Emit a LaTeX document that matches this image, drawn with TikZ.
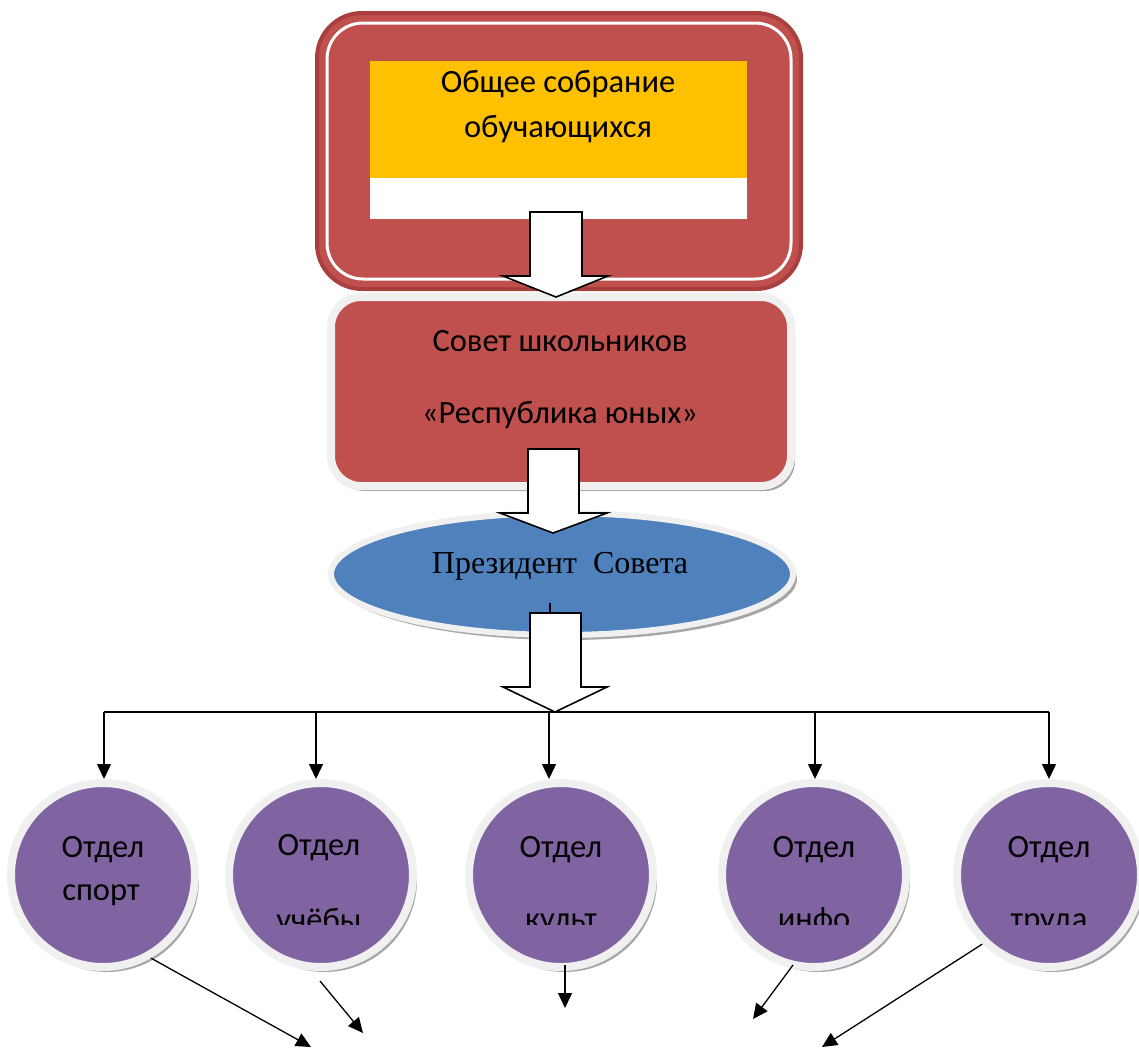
\documentclass[tikz,border=0pt]{standalone}
\usepackage{fontspec}
\setmainfont{Carlito}
\newfontfamily\serifrm{Liberation Serif}
\usetikzlibrary{arrows.meta,shadows,shapes.geometric}
\definecolor{redbox}{HTML}{C0504D}
\definecolor{rededge}{HTML}{A9403D}
\definecolor{yelbox}{HTML}{FFC000}
\definecolor{bluebox}{HTML}{4F81BD}
\definecolor{purbox}{HTML}{8064A2}
\tikzset{
  lbl/.style={anchor=base, inner sep=0, font=\fontsize{32.5}{38}\selectfont},
  sershadow/.style={drop shadow={shadow xshift=4pt, shadow yshift=-5pt, fill=black!35, opacity=1}},
  blockarrow/.style={draw=black, fill=white, line width=1.6},
  dept/.style={circle, minimum size=184, inner sep=0, fill=purbox, draw=white!94!black, line width=8, sershadow},
  conn/.style={draw=black, line width=1.3, -{Triangle[length=15,width=14]}},
}
\begin{document}
\begin{tikzpicture}[x=1pt,y=-1pt]
\useasboundingbox[fill=white] (0,0) rectangle (1139,1047);

% top box
\node[rectangle, rounded corners=45, minimum width=484, minimum height=276, inner sep=0,
      fill=redbox, draw=rededge, line width=4] (top) at (559,151) {};
\draw[white, line width=3, rounded corners=36] (327,23) rectangle (791,279);
\fill[yelbox] (370,61) rectangle (747,178);
\fill[white] (370,178) rectangle (747,219);
\node[lbl] (t1) at (558,92) {Общее собрание};
\node[lbl] (t2) at (558,137) {обучающихся};

% second box
\node[rectangle, rounded corners=30, minimum width=460, minimum height=189, inner sep=0,
      fill=redbox, draw=white!94!black, line width=8, sershadow] (sovet) at (561,391.5) {};
\node[lbl] (s1) at (560,351) {Совет школьников};
\node[lbl] (s2) at (560,423) {«Республика юных»};

% ellipse
\node[ellipse, minimum width=462, minimum height=122, inner sep=0,
      fill=bluebox, draw=white!94!black, line width=6, sershadow] (pres) at (562,574) {};
\node[lbl, font=\serifrm\fontsize{32}{38}\selectfont] (p1) at (560,573) {Президент\ \ Совета};
\coordinate (tk1) at (550,603);
\coordinate (tk2) at (550,613);
\draw[line width=1.2] (tk1) -- (tk2);

% block arrows
\draw[blockarrow] (530,212) -- (582,212) -- (582,276) -- (608,276) -- (556,297)
  -- (503,276) -- (530,276) -- cycle;
\draw[blockarrow] (528,449) -- (579,449) -- (579,513) -- (607,513) -- (553,533)
  -- (500,513) -- (528,513) -- cycle;
\draw[blockarrow] (530,613) -- (581,613) -- (581,687) -- (607,687) -- (555,712)
  -- (503,687) -- (530,687) -- cycle;

% departments
\node[dept] (c1) at (103,875) {};
\node[dept] (c2) at (321,875) {};
\node[dept] (c3) at (561,875) {};
\node[dept] (c4) at (814,875) {};
\node[dept] (c5) at (1049,875) {};

\node[lbl] at (103,857) {Отдел};
\node[lbl] at (101,900) {спорт};
\node[lbl] at (319,855) {Отдел};
\node[lbl] at (561,857) {Отдел};
\node[lbl] at (814,857) {Отдел};
\node[lbl] at (1049,857) {Отдел};
\begin{scope}
  \clip (0,0) rectangle (1139,924);
  \node[lbl] at (319,930) {учёбы};
  \node[lbl] at (561,929) {культ};
  \node[lbl] at (814,929) {инфо};
  \node[lbl] at (1049,929) {труда};
\end{scope}

% bus
\coordinate (b1) at (104,712);
\coordinate (b2) at (316,712);
\coordinate (b3) at (549,712);
\coordinate (b4) at (815,712);
\coordinate (b5) at (1049,712);
\coordinate (b3d) at (549,718);
\draw[line width=1.3] (b1) -- (b5);
\draw[line width=1.3] (b3) -- (b3d);
\foreach \i in {1,...,5}{
  \draw[conn] (b\i) -- (b\i |- c\i.north);
}

% lower arrows
\coordinate (e1) at (311,1047);
\coordinate (s2) at (320,981);
\coordinate (e2) at (363,1033);
\coordinate (s3) at (565,965);
\coordinate (e3) at (565,1008);
\coordinate (s4) at (793,965);
\coordinate (e4) at (753,1019);
\coordinate (e5) at (822,1047);
\draw[conn] (c1.-60) -- (e1);
\draw[conn] (s2) -- (e2);
\draw[conn] (s3) -- (e3);
\draw[conn] (s4) -- (e4);
\draw[conn] (c5.-134) -- (e5);
\end{tikzpicture}
\end{document}
